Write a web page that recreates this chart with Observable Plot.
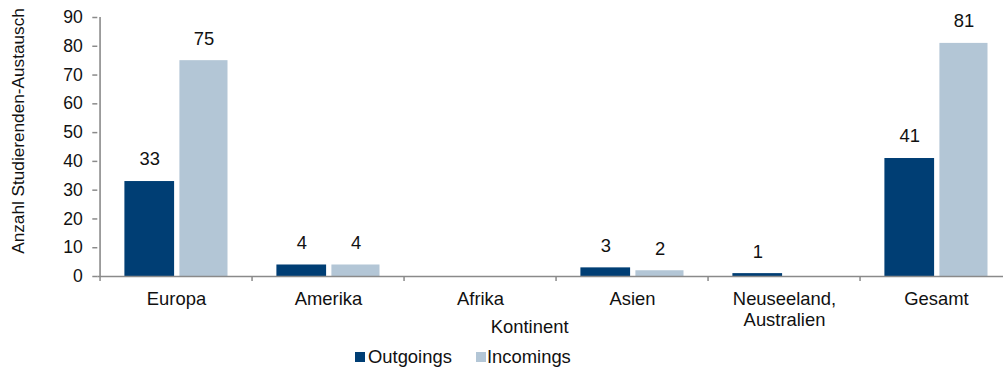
<!DOCTYPE html>
<html>
<head>
<meta charset="utf-8">
<script src="https://cdn.jsdelivr.net/npm/d3@7"></script>
<script src="https://cdn.jsdelivr.net/npm/@observablehq/plot@0.6"></script>
<style>
  body { margin: 0; background: #fff; font-family: "Liberation Sans", Arial, sans-serif; }
  #legend { position: relative; height: 24px; font-size: 18.4px; color: #111; }
  .sw { position: absolute; top: 7px; width: 10px; height: 10px; }
  .lt { position: absolute; top: 0; line-height: 24px; }
</style>
</head>
<body>
<div id="chart"></div>
<div id="legend"></div>
<script>
const continents = ["Europa", "Amerika", "Afrika", "Asien", "Neuseeland,\nAustralien", "Gesamt"];
const outgoings = [33, 4, 0, 3, 1, 41];
const incomings = [75, 4, 0, 2, 0, 81];
const seriesNames = ["Outgoings", "Incomings"];
const seriesColors = ["#003e74", "#b3c6d6"];
const yTicks = [0, 10, 20, 30, 40, 50, 60, 70, 80, 90];
const yLabel = "Anzahl Studierenden-Austausch";
const xLabel = "Kontinent";

const data = [];
continents.forEach((c, i) => {
  data.push({continent: c, series: "Outgoings", value: outgoings[i]});
  data.push({continent: c, series: "Incomings", value: incomings[i]});
});
const outData = data.filter(d => d.series === "Outgoings");
const inData = data.filter(d => d.series === "Incomings");

const x0 = 97.3, x1 = 1014.7;
const step = (x1 - x0) / continents.length;
const gray = "#8a8a8a";
const fs = 17.6;
const fsx = 18.4;

const chart = Plot.plot({
  width: 1003,
  height: 345,
  marginTop: 17,
  marginBottom: 69,
  marginLeft: x0,
  marginRight: 0,
  style: {fontFamily: "Liberation Sans, Arial, sans-serif", fontSize: fs + "px", color: "#111", background: "#fff"},
  x: {domain: continents, range: [x0, x1], padding: 0},
  y: {domain: [0, 90]},
  color: {domain: seriesNames, range: seriesColors},
  marks: [
    Plot.barY(outData, {x: "continent", y: "value", fill: "series", insetLeft: 24.4, insetRight: step - 75}),
    Plot.barY(inData, {x: "continent", y: "value", fill: "series", insetLeft: 79.4, insetRight: 24.5}),
    Plot.text(outData.filter(d => d.value > 0), {x: "continent", y: "value", text: d => String(d.value), dx: -26.7, dy: -22, fill: "#111", fontSize: fsx}),
    Plot.text(inData.filter(d => d.value > 0), {x: "continent", y: "value", text: d => String(d.value), dx: 27.5, dy: -22, fill: "#111", fontSize: fsx}),
    Plot.ruleY([0], {stroke: gray, strokeWidth: 1.6}),
    Plot.ruleX([continents[0]], {y1: 0, y2: 90, dx: -step / 2, stroke: gray, strokeWidth: 1.6}),
    Plot.axisY({ticks: yTicks, tickSize: 5, tickPadding: 10, stroke: gray, strokeWidth: 1.5, fill: "#111", fontSize: fs, label: null}),
    Plot.axisX({tickSize: 5, tickFormat: () => "", dx: -step / 2, stroke: gray, strokeWidth: 1.5, label: null}),
    Plot.axisX({tickSize: 0, tickPadding: 13, fill: "#111", fontSize: fsx, lineHeight: 1.15, label: null}),
    Plot.text([xLabel], {frameAnchor: "bottom", dx: -21, dy: 56, fill: "#111", fontSize: fsx}),
    Plot.text([yLabel], {frameAnchor: "left", textAnchor: "middle", rotate: -90, dx: -79.3, dy: -16, fill: "#111", fontSize: 17.2})
  ]
});
document.getElementById("chart").appendChild(chart);

const legend = document.getElementById("legend");
const legendPos = [[355, 368], [476, 487]];
seriesNames.forEach((name, i) => {
  const sw = document.createElement("div");
  sw.className = "sw";
  sw.style.left = legendPos[i][0] + "px";
  sw.style.background = seriesColors[i];
  legend.appendChild(sw);
  const t = document.createElement("div");
  t.className = "lt";
  t.style.left = legendPos[i][1] + "px";
  t.textContent = name;
  legend.appendChild(t);
});
</script>
</body>
</html>
